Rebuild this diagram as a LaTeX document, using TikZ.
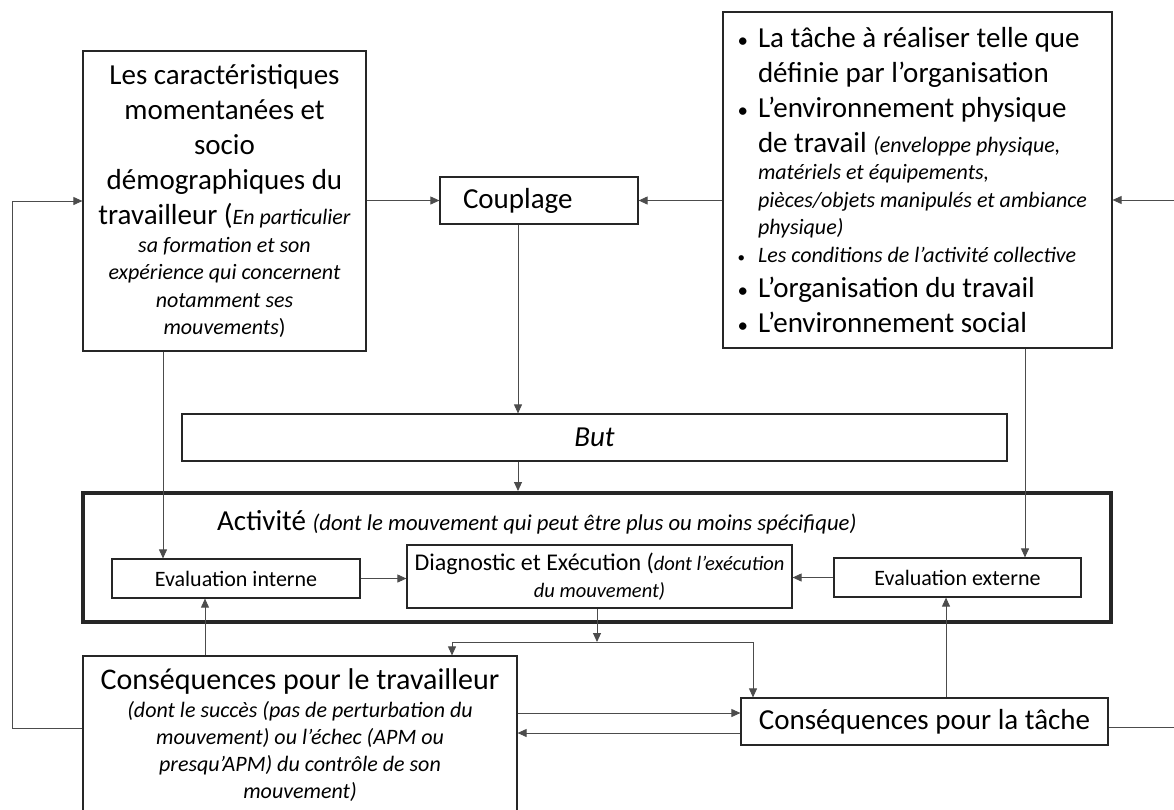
\documentclass[tikz,border=0pt]{standalone}
\usepackage{fontspec}
\setmainfont{Carlito}
\usetikzlibrary{arrows.meta}
\newcommand\grand{\fontsize{29}{35}\selectfont}
\newcommand\moyen{\fontsize{22}{27}\selectfont}
\newcommand\petit{\fontsize{20.5}{27}\selectfont}
\newcommand\puce[1][21]{\makebox[25.5pt][l]{\hspace{5pt}{\fontsize{#1}{#1}\selectfont\textbullet}}}
\newcommand\suite{\hspace*{25.5pt}}
\tikzset{
  boite/.style  = {shape=rectangle, draw=black!85, line width=1.2pt, inner sep=0pt},
  activ/.style  = {boite, line width=4pt},
  fleche/.style = {draw=black!70, line width=0.9pt, -{Triangle[length=9pt,width=8pt]}},
  trait/.style  = {draw=black!70, line width=0.9pt}
}

\begin{document}
\begin{tikzpicture}[x=1pt, y=-1pt]
  \useasboundingbox (0,0) rectangle (1174,809);
  \coordinate (gauche) at (12,0);
  \coordinate (droiteh) at (1174,200);
  \coordinate (droiteb) at (1174,727);
  \coordinate (axe) at (518,0);
  \coordinate (fourche) at (597,642);

  \node[boite, minimum width=283pt, minimum height=300pt, align=center, font=\grand] (carac) at (224.5,201)
    {Les caractéristiques\\ momentanées et\\ socio\\ démographiques du\\
     travailleur ({\moyen\itshape En particulier}\\[-7.5pt]
     {\moyen\itshape sa formation et son}\\[-7.5pt]
     {\moyen\itshape expérience qui concernent}\\[-7.5pt]
     {\moyen\itshape notamment ses}\\[-7.5pt]
     {\moyen{\itshape mouvements})}};
  \node[boite, minimum height=47pt, text width=152pt, inner xsep=23pt, align=flush left, font=\grand] (couplage) at (539,200.5) {Couplage};
  \node[boite, minimum width=389pt, minimum height=336pt, text width=370pt, align=flush left, font=\grand] (taches) at (917.5,180)
    {\puce La tâche à réaliser telle que\\
     \suite définie par l’organisation\\
     \puce L’environnement physique\\
     \suite de travail {\moyen\itshape (enveloppe physique,}\\[-7.5pt]
     \suite{\moyen\itshape matériels et équipements,}\\[-7.5pt]
     \suite{\moyen\itshape pièces/objets manipulés et ambiance}\\[-7.5pt]
     \suite{\moyen\itshape physique)}\\[-7pt]
     {\moyen\puce[15]\itshape Les conditions de l’activité collective}\\
     \puce L’organisation du travail\\
     \puce L’environnement social};

  \node[boite, minimum width=825pt, minimum height=47pt, font=\grand\itshape] (but) at (594.5,437.5) {But};
  \node[activ, minimum width=1028pt, minimum height=129pt] (activite) at (597,557.5) {};
  \node[anchor=base west, inner sep=0pt, font=\grand] (activitelbl) at (217,530)
    {Activité {\fontsize{22.7}{27}\selectfont\itshape (dont le mouvement qui peut être plus ou moins spécifique)}};
  \node[boite, minimum width=248pt, minimum height=39pt, font=\moyen] (evalint) at (236,578.5) {Evaluation interne};
  \node[boite, minimum width=385pt, minimum height=63pt, align=center, font=\fontsize{24}{27}\selectfont] (diag) at (599.5,576.5)
    {Diagnostic et Exécution ({\petit\itshape dont l’exécution}\\ {\petit\itshape du mouvement)}};
  \node[boite, minimum width=247pt, minimum height=39pt, font=\moyen] (evalext) at (957.5,577.5) {Evaluation externe};

  \node[boite, minimum width=434pt, minimum height=159pt, align=center, font=\fontsize{30}{35}\selectfont] (constrav) at (300,735.5)
    {Conséquences pour le travailleur\\[-7pt]
     {\moyen\itshape (dont le succès (pas de perturbation du}\\[-8pt]
     {\moyen\itshape mouvement) ou l’échec (APM ou}\\[-8pt]
     {\moyen\itshape presqu’APM) du contrôle de son}\\[-8pt]
     {\moyen\itshape mouvement)}};
  \node[boite, minimum width=367pt, minimum height=47pt, font=\grand] (constache) at (924.5,721.5) {Conséquences pour la tâche};

  \draw[fleche] (carac.east |- couplage) -- (couplage.west);
  \draw[fleche] (taches.west |- couplage) -- (couplage.east);
  \draw[fleche] (droiteh) -- (taches.east |- droiteh);
  \draw[fleche] (couplage.south -| axe) -- (but.north -| axe);
  \draw[fleche] (but.south -| axe) -- (activite.north -| axe);
  \draw[fleche] ([xshift=-73pt]evalint.north |- carac.south) -- ([xshift=-73pt]evalint.north);
  \draw[fleche] ([xshift=67.5pt]evalext.north |- taches.south) -- ([xshift=67.5pt]evalext.north);
  \draw[fleche] (evalint.east) -- (evalint.east -| diag.west);
  \draw[fleche] (evalext.west) -- (evalext.west -| diag.east);
  \draw[fleche] (diag.south -| fourche) -- (fourche);
  \draw[fleche] (fourche) -| ([xshift=152pt]constrav.north);
  \draw[fleche] (fourche) -| ([xshift=-171.5pt]constache.north);
  \draw[fleche] ([yshift=8.5pt]constache.west -| constrav.east) -- ([yshift=8.5pt]constache.west);
  \draw[fleche] ([yshift=-11.5pt]constache.west) -- ([yshift=-11.5pt]constache.west -| constrav.east);
  \draw[fleche] ([xshift=-95pt]constrav.north) -- ([xshift=-95pt]constrav.north |- evalint.south);
  \draw[fleche] ([xshift=21.5pt]constache.north) -- ([xshift=21.5pt]constache.north |- evalext.south);
  \draw[trait] ([yshift=-5.5pt]constache.east) -- ([yshift=-5.5pt]constache.east -| droiteb);
  \draw[fleche] ([yshift=7.5pt]constrav.west) -| (gauche |- carac.west) -- (carac.west);
\end{tikzpicture}
\end{document}
